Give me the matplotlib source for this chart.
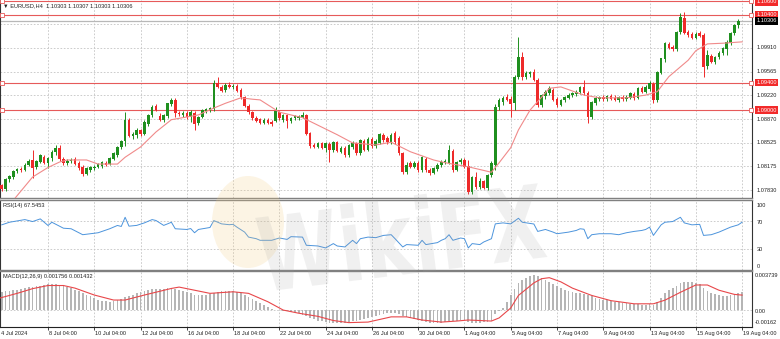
import numpy as np
import matplotlib
matplotlib.use('Agg')
import matplotlib.pyplot as plt
from matplotlib.patches import Ellipse, PathPatch
from matplotlib.textpath import TextPath
from matplotlib.font_manager import FontProperties
from matplotlib.transforms import Affine2D

plt.rcParams['font.family'] = ['Liberation Sans', 'DejaVu Sans']

# EURUSD H4 candles, 4 Jul 2024 00:00 -> 19 Aug 2024 04:00 (one entry per bar)
opens = [
    1.0786, 1.0790, 1.0784, 1.0799, 1.0802, 1.0811, 1.0814, 1.0812, 1.0820, 1.0827, 1.0817, 1.0824,
    1.0831, 1.0822, 1.0830, 1.0838, 1.0845, 1.0829, 1.0823, 1.0826, 1.0828, 1.0822, 1.0816, 1.0807,
    1.0813, 1.0815, 1.0817, 1.0818, 1.0823, 1.0821, 1.0829, 1.0834, 1.0846, 1.0855, 1.0886, 1.0862,
    1.0863, 1.0871, 1.0865, 1.0880, 1.0893, 1.0906, 1.0892, 1.0886, 1.0891, 1.0909, 1.0915, 1.0896,
    1.0893, 1.0896, 1.0890, 1.0896, 1.0881, 1.0890, 1.0899, 1.0900, 1.0902, 1.0940, 1.0934, 1.0929,
    1.0937, 1.0934, 1.0935, 1.0929, 1.0919, 1.0906, 1.0897, 1.0888, 1.0887, 1.0881, 1.0886, 1.0883,
    1.0884, 1.0897, 1.0886, 1.0893, 1.0884, 1.0888, 1.0888, 1.0890, 1.0893, 1.0866, 1.0849, 1.0846,
    1.0852, 1.0845, 1.0850, 1.0842, 1.0853, 1.0839, 1.0845, 1.0834, 1.0846, 1.0852, 1.0837, 1.0855,
    1.0842, 1.0858, 1.0847, 1.0852, 1.0864, 1.0859, 1.0853, 1.0866, 1.0859, 1.0837, 1.0809, 1.0822,
    1.0817, 1.0823, 1.0812, 1.0828, 1.0812, 1.0808, 1.0814, 1.0819, 1.0824, 1.0823, 1.0840, 1.0813,
    1.0824, 1.0827, 1.0818, 1.0780, 1.0802, 1.0787, 1.0796, 1.0786, 1.0805, 1.0820, 1.0904, 1.0912,
    1.0919, 1.0917, 1.0910, 1.0949, 1.0978, 1.0949, 1.0953, 1.0956, 1.0944, 1.0908, 1.0920, 1.0925,
    1.0930, 1.0916, 1.0908, 1.0915, 1.0918, 1.0922, 1.0924, 1.0926, 1.0934, 1.0925, 1.0890, 1.0911,
    1.0917, 1.0919, 1.0916, 1.0920, 1.0918, 1.0915, 1.0919, 1.0916, 1.0918, 1.0924, 1.0918, 1.0933,
    1.0927, 1.0931, 1.0938, 1.0915, 1.0955, 1.0975, 1.0997, 1.0992, 1.0989, 1.1014, 1.1035, 1.1014,
    1.1012, 1.1006, 1.1013, 1.1010, 1.0964, 1.0980, 1.0971, 1.0978, 1.0984, 1.0990, 1.0999, 1.1013,
    1.1024, 1.10303,
]
highs = [
    1.0792, 1.0792, 1.0801, 1.0805, 1.0812, 1.0815, 1.0817, 1.0823, 1.0828, 1.0842, 1.0827, 1.0836,
    1.0835, 1.0832, 1.0841, 1.0849, 1.0849, 1.0832, 1.0828, 1.0830, 1.0831, 1.0825, 1.0820, 1.0816,
    1.0818, 1.0819, 1.0823, 1.0826, 1.0826, 1.0831, 1.0839, 1.0848, 1.0856, 1.0897, 1.0888, 1.0868,
    1.0874, 1.0873, 1.0885, 1.0895, 1.0907, 1.0909, 1.0896, 1.0895, 1.0911, 1.0918, 1.0918, 1.0899,
    1.0898, 1.0898, 1.0900, 1.0899, 1.0892, 1.0902, 1.0903, 1.0905, 1.0944, 1.0948, 1.0937, 1.0940,
    1.0941, 1.0939, 1.0938, 1.0932, 1.0921, 1.0909, 1.0899, 1.0891, 1.0889, 1.0888, 1.0888, 1.0885,
    1.0905, 1.0899, 1.0895, 1.0895, 1.0890, 1.0893, 1.0893, 1.0897, 1.0895, 1.0868, 1.0852, 1.0854,
    1.0854, 1.0854, 1.0853, 1.0855, 1.0855, 1.0847, 1.0847, 1.0851, 1.0855, 1.0854, 1.0858, 1.0858,
    1.0860, 1.0860, 1.0857, 1.0867, 1.0867, 1.0862, 1.0866, 1.0869, 1.0862, 1.0839, 1.0824, 1.0825,
    1.0826, 1.0825, 1.0833, 1.0831, 1.0815, 1.0817, 1.0822, 1.0827, 1.0828, 1.0849, 1.0843, 1.0826,
    1.0830, 1.0830, 1.0827, 1.0804, 1.0809, 1.0800, 1.0798, 1.0807, 1.0826, 1.0909, 1.0918, 1.0921,
    1.0923, 1.0920, 1.0952, 1.1007, 1.0985, 1.0957, 1.0958, 1.0960, 1.0947, 1.0924, 1.0930, 1.0935,
    1.0933, 1.0919, 1.0917, 1.0921, 1.0925, 1.0927, 1.0929, 1.0936, 1.0944, 1.0928, 1.0913, 1.0920,
    1.0921, 1.0922, 1.0922, 1.0923, 1.0922, 1.0921, 1.0922, 1.0922, 1.0927, 1.0926, 1.0934, 1.0936,
    1.0937, 1.0942, 1.0941, 1.0958, 1.0977, 1.1000, 1.1000, 1.0995, 1.1016, 1.1042, 1.1044, 1.1017,
    1.1015, 1.1014, 1.1016, 1.1013, 1.0988, 1.0982, 1.0980, 1.0986, 1.0993, 1.1002, 1.1015, 1.1026,
    1.1034, 1.10307,
]
lows = [
    1.0784, 1.0782, 1.0782, 1.0795, 1.0799, 1.0808, 1.0810, 1.0811, 1.0818, 1.0801, 1.0814, 1.0822,
    1.0821, 1.0815, 1.0826, 1.0835, 1.0826, 1.0820, 1.0820, 1.0822, 1.0820, 1.0813, 1.0804, 1.0805,
    1.0810, 1.0812, 1.0815, 1.0815, 1.0818, 1.0819, 1.0827, 1.0832, 1.0843, 1.0847, 1.0860, 1.0858,
    1.0859, 1.0862, 1.0863, 1.0877, 1.0890, 1.0898, 1.0884, 1.0883, 1.0888, 1.0906, 1.0890, 1.0892,
    1.0890, 1.0887, 1.0883, 1.0871, 1.0878, 1.0888, 1.0896, 1.0897, 1.0898, 1.0932, 1.0926, 1.0927,
    1.0932, 1.0931, 1.0926, 1.0917, 1.0904, 1.0895, 1.0886, 1.0882, 1.0879, 1.0879, 1.0879, 1.0877,
    1.0882, 1.0886, 1.0883, 1.0874, 1.0881, 1.0885, 1.0886, 1.0888, 1.0863, 1.0845, 1.0844, 1.0844,
    1.0843, 1.0838, 1.0824, 1.0838, 1.0838, 1.0837, 1.0832, 1.0832, 1.0843, 1.0835, 1.0834, 1.0840,
    1.0840, 1.0845, 1.0845, 1.0850, 1.0854, 1.0851, 1.0850, 1.0851, 1.0835, 1.0806, 1.0806, 1.0815,
    1.0815, 1.0810, 1.0810, 1.0810, 1.0805, 1.0806, 1.0811, 1.0817, 1.0821, 1.0821, 1.0810, 1.0811,
    1.0821, 1.0815, 1.0777, 1.0777, 1.0784, 1.0784, 1.0784, 1.0783, 1.0802, 1.0812, 1.0900, 1.0908,
    1.0913, 1.0890, 1.0900, 1.0945, 1.0944, 1.0946, 1.0949, 1.0942, 1.0905, 1.0905, 1.0917, 1.0922,
    1.0913, 1.0905, 1.0906, 1.0912, 1.0916, 1.0919, 1.0921, 1.0923, 1.0922, 1.0881, 1.0887, 1.0908,
    1.0914, 1.0914, 1.0913, 1.0915, 1.0913, 1.0912, 1.0914, 1.0913, 1.0916, 1.0915, 1.0916, 1.0925,
    1.0925, 1.0928, 1.0911, 1.0912, 1.0953, 1.0971, 1.0989, 1.0986, 1.0986, 1.1011, 1.1011, 1.1007,
    1.1004, 1.1004, 1.1007, 1.0949, 1.0960, 1.0969, 1.0968, 1.0975, 1.0981, 1.0981, 1.0996, 1.1010,
    1.1021, 1.10303,
]
closes = [
    1.0790, 1.0784, 1.0799, 1.0804, 1.0811, 1.0814, 1.0812, 1.0820, 1.0826, 1.0815, 1.0825, 1.0834,
    1.0823, 1.0830, 1.0839, 1.0845, 1.0828, 1.0823, 1.0826, 1.0827, 1.0821, 1.0815, 1.0806, 1.0815,
    1.0816, 1.0817, 1.0821, 1.0824, 1.0820, 1.0830, 1.0837, 1.0846, 1.0855, 1.0886, 1.0862, 1.0865,
    1.0871, 1.0865, 1.0883, 1.0893, 1.0905, 1.0900, 1.0886, 1.0893, 1.0910, 1.0915, 1.0896, 1.0894,
    1.0896, 1.0890, 1.0897, 1.0880, 1.0890, 1.0900, 1.0901, 1.0903, 1.0940, 1.0934, 1.0928, 1.0937,
    1.0934, 1.0935, 1.0928, 1.0919, 1.0906, 1.0897, 1.0888, 1.0884, 1.0881, 1.0886, 1.0881, 1.0880,
    1.0899, 1.0888, 1.0893, 1.0884, 1.0888, 1.0891, 1.0891, 1.0893, 1.0865, 1.0847, 1.0846, 1.0852,
    1.0845, 1.0852, 1.0842, 1.0853, 1.0840, 1.0845, 1.0834, 1.0849, 1.0852, 1.0837, 1.0856, 1.0842,
    1.0858, 1.0847, 1.0855, 1.0865, 1.0856, 1.0853, 1.0864, 1.0853, 1.0837, 1.0809, 1.0820, 1.0817,
    1.0823, 1.0812, 1.0831, 1.0812, 1.0808, 1.0815, 1.0820, 1.0824, 1.0825, 1.0842, 1.0813, 1.0824,
    1.0827, 1.0817, 1.0780, 1.0802, 1.0787, 1.0796, 1.0786, 1.0805, 1.0823, 1.0905, 1.0915, 1.0918,
    1.0915, 1.0909, 1.0949, 1.0978, 1.0949, 1.0954, 1.0956, 1.0944, 1.0908, 1.0922, 1.0927, 1.0932,
    1.0915, 1.0908, 1.0915, 1.0919, 1.0922, 1.0925, 1.0927, 1.0934, 1.0925, 1.0890, 1.0912, 1.0918,
    1.0919, 1.0917, 1.0920, 1.0917, 1.0915, 1.0919, 1.0916, 1.0919, 1.0925, 1.0918, 1.0932, 1.0927,
    1.0934, 1.0940, 1.0915, 1.0956, 1.0976, 1.0998, 1.0991, 1.0990, 1.1014, 1.1036, 1.1013, 1.1010,
    1.1006, 1.1011, 1.1009, 1.0963, 1.0981, 1.0971, 1.0978, 1.0984, 1.0991, 1.1000, 1.1013, 1.1024,
    1.1030, 1.10306,
]

# moving average line, read at a set of bars
ma_bars = [0, 4, 9, 13, 16, 18, 23, 26, 31, 33, 37, 41, 45, 49, 52, 56, 59, 63, 66, 68, 73, 79, 88, 92,
           98, 102, 107, 113, 116, 122, 128, 130, 133, 135, 138, 141, 143, 146, 148, 152, 156, 163,
           168, 171, 174, 179, 181, 184, 188, 193]
ma_vals = [1.0749, 1.0768, 1.0802, 1.0816, 1.0824, 1.0827, 1.0827, 1.0821, 1.0821, 1.0831, 1.0846,
           1.0868, 1.0886, 1.0890, 1.0893, 1.0903, 1.0910, 1.0918, 1.0916, 1.0915, 1.0897, 1.0889,
           1.0864, 1.0852, 1.0849, 1.0853, 1.0839, 1.0827, 1.0823, 1.0817, 1.0809, 1.0823, 1.0845,
           1.0871, 1.0900, 1.0919, 1.0932, 1.0934, 1.0930, 1.0922, 1.0918, 1.0918, 1.0922, 1.0927,
           1.0949, 1.0973, 1.0987, 1.0997, 1.0998, 1.1000]

# RSI(14)
rsi_bars = [1, 3, 7, 9, 11, 13, 14, 17, 19, 22, 26, 29, 31, 32, 33, 34, 36, 38, 40, 41, 43, 44, 45, 46,
            49, 50, 51, 52, 55, 56, 58, 60, 61, 62, 64, 65, 67, 68, 71, 73, 75, 76, 79, 80, 83, 85,
            87, 88, 90, 92, 93, 94, 96, 98, 100, 102, 103, 105, 106, 109, 110, 111, 114, 115, 116,
            117, 118, 120, 121, 122, 123, 125, 126, 128, 129, 131, 133, 135, 136, 139, 140, 142, 144,
            145, 148, 150, 151, 152, 153, 154, 156, 159, 161, 163, 165, 167, 168, 169, 170, 172, 173,
            175, 177, 178, 180, 182, 183, 185, 187, 190, 192, 193]
rsi_vals = [63.8, 67.5, 71.3, 68.5, 72.3, 62.9, 67.5, 59.0, 58.2, 49.7, 52.5, 58.2, 62.9, 61.5, 74.6,
            61.9, 63.0, 66.6, 71.3, 70.0, 63.0, 65.2, 67.5, 58.2, 57.2, 58.5, 52.5, 57.2, 60.0, 69.9,
            65.2, 64.0, 64.5, 60.5, 53.4, 46.3, 44.0, 41.7, 41.7, 45.0, 43.0, 46.9, 46.3, 34.6, 33.6,
            30.8, 37.0, 33.6, 32.2, 41.7, 37.0, 44.0, 46.3, 45.5, 48.7, 49.7, 44.0, 32.2, 35.6, 34.6,
            41.7, 35.6, 38.4, 41.7, 44.0, 49.7, 41.7, 45.0, 44.0, 30.8, 37.0, 35.6, 39.3, 44.0, 65.2,
            66.6, 65.2, 73.2, 67.5, 65.0, 54.4, 57.2, 53.4, 51.1, 53.4, 55.8, 58.2, 57.5, 44.0, 49.7,
            51.1, 51.1, 49.7, 52.5, 54.4, 55.8, 57.2, 60.5, 48.7, 63.8, 67.5, 68.5, 74.6, 66.6, 63.8,
            64.5, 48.7, 49.7, 53.4, 60.5, 63.8, 67.55]

# MACD(12,26,9) main histogram, one value per bar, in units of 1e-4
macd_e4 = [
    17, 17.5, 18, 18.5, 19, 19.5, 20, 21, 22, 22.5, 23, 23.5,
    24, 24.5, 24.5, 24.5, 24, 23, 22, 21, 19.5, 18, 16, 14.5,
    13, 11.5, 10, 9, 8.5, 8, 8.5, 9.5, 10.5, 12.5, 13.5, 14.5,
    16, 17, 18, 19, 20, 20.5, 20.5, 20.5, 21, 21, 20.5, 19.5,
    18, 17, 16, 14.5, 14, 14, 14.5, 15, 16.5, 17.5, 18, 18.5,
    18.5, 18, 17.5, 16.5, 14.5, 12.5, 10.5, 8.5, 6.5, 4.5, 3, 1.5,
    0.5, 0, -0.5, -1, -1.5, -2, -3, -4.5, -6, -7.5, -9, -10,
    -10.5, -11.5, -12, -12.5, -12.5, -12.5, -12, -11.5, -10.5, -10, -9.5, -8.5,
    -7.5, -6.5, -5.5, -4.5, -3.5, -3, -2.5, -2.5, -3.5, -5.5, -7, -8,
    -9, -9.5, -10, -11, -12, -12.5, -12.5, -12, -11.5, -10.5, -10.5, -10,
    -9.5, -9.5, -11.5, -12, -12, -12, -11.5, -11, -10, -4, -1, 2,
    8, 14, 20, 26, 29, 31, 33, 34, 33, 31, 29, 27,
    25, 23, 21, 19.5, 18.5, 17.5, 16.5, 16, 15.5, 14, 13, 12,
    11, 10, 9.5, 8.5, 8, 7.5, 7, 6.5, 6, 5.5, 5.5, 5,
    5, 5.5, 5, 8, 12, 16, 19, 21.5, 23.5, 25.5, 26.5, 27,
    26.5, 25.5, 24.5, 21, 18.5, 16.5, 15, 14, 13.5, 13.5, 14, 15,
    16, 17.56,
]
signal_bars = [0, 5, 9, 13, 17, 20, 25, 30, 33, 38, 45, 47, 51, 55, 61, 65, 70, 74, 78, 83, 87, 91, 96,
               102, 106, 110, 115, 119, 122, 128, 130, 133, 135, 139, 141, 143, 146, 149, 154, 159,
               165, 170, 173, 177, 181, 184, 187, 191, 193]
signal_e4 = [11, 16, 20.5, 23.5, 23.5, 21, 14.4, 9.6, 9.6, 14.4, 20.7, 22, 19, 16, 17.5, 16, 8, 0, -3,
             -6, -10, -12, -11.5, -6.5, -6.5, -9.5, -11.5, -10.5, -9.5, -10.5, -7.5, 2, 14, 26, 30,
             31, 27, 21, 14, 9, 6, 6, 9.5, 17, 24, 24, 19, 15, 14.32]

# axis texts
time_label_bars = [0, 13, 25, 37, 49, 61, 73, 85, 97, 109, 121, 133, 145, 157, 169, 181, 193]
time_labels = ['4 Jul 2024', '8 Jul 04:00', '10 Jul 04:00', '12 Jul 04:00', '16 Jul 04:00',
               '18 Jul 04:00', '22 Jul 04:00', '24 Jul 04:00', '26 Jul 04:00', '30 Jul 04:00',
               '1 Aug 04:00', '5 Aug 04:00', '7 Aug 04:00', '9 Aug 04:00', '13 Aug 04:00',
               '15 Aug 04:00', '19 Aug 04:00']
price_grid = [1.07830, 1.08175, 1.08525, 1.08870, 1.09220, 1.09565, 1.09910, 1.10255, 1.10600]
price_labels = ['1.07830', '1.08175', '1.08525', '1.08870', '1.09220', '1.09565', '1.09910']
level_lines = [1.10600, 1.10400, 1.09400, 1.09000]
last_price = 1.10306

GREEN = '#1f8f1f'
RED = '#ee2a2a'
GRID = '#c4c4c4'
FS = 4.1

W, H = 780, 339
fig = plt.figure(figsize=(7.8, 3.39), dpi=100)
fig.patch.set_facecolor('white')


def box(left, top, width, height):
    return [left / W, 1 - (top + height) / H, width / W, height / H]


ax = fig.add_axes(box(0, 0, 752, 198))
ax_rsi = fig.add_axes(box(0, 199.5, 752, 70))
ax_macd = fig.add_axes(box(0, 271, 752, 56))

x0, x1 = 0.55, 195.57
for a in (ax, ax_rsi, ax_macd):
    a.set_xlim(x0, x1)
    a.set_xticks([])
    a.set_yticks([])
    a.set_facecolor('white')
    for b in time_label_bars[1:]:
        a.axvline(b, color=GRID, lw=0.6, ls=(0, (2, 2)), zorder=0)
    for s in ('left', 'right'):
        a.spines[s].set_color('#333333')
        a.spines[s].set_linewidth(0.8)
    for s in ('top', 'bottom'):
        a.spines[s].set_color('#808080')
        a.spines[s].set_linewidth(1.0)
ax.spines['top'].set_visible(False)
ax_macd.spines['bottom'].set_color('#222222')
ax_macd.spines['bottom'].set_linewidth(0.8)

# ---- price panel ----
o = np.array(opens)
h = np.array(highs)
l = np.array(lows)
c = np.array(closes)
x = np.arange(len(o))
col = np.where(c >= o, GREEN, RED)
body = np.abs(c - o)
tiny = body < 0.0001
height = np.where(tiny, 0.0001, body)
bottom = np.where(tiny, (o + c) / 2 - 0.00005, np.minimum(o, c))

ax.set_ylim(1.07713, 1.10613)
for p in price_grid:
    ax.axhline(p, color=GRID, lw=0.6, ls=(0, (2, 2)), zorder=0)
ax.axhline(last_price, color='#b8b8b8', lw=0.9, zorder=1)
for p in level_lines:
    ax.axhline(p, color='#e65a5a', lw=0.8, zorder=1)
    ax.plot([1.0, 195.2], [p, p], ls='none', marker='s', ms=2.2, mfc='white',
            mec='#e65a5a', mew=0.6, zorder=5, clip_on=False)

ax.vlines(x, l, h, colors=col, lw=0.7, zorder=3)
ax.bar(x, height, bottom=bottom, width=0.66, color=col, linewidth=0, zorder=4)
ax.plot(ma_bars, ma_vals, color='#f08a8a', lw=0.8, zorder=5)

ytr = ax.get_yaxis_transform()
for p, s in zip(price_grid, price_labels):
    ax.text(1.006, p, s, transform=ytr, fontsize=FS, va='center', ha='left', color='#222222',
            clip_on=False)
for p in level_lines:
    # the top level sits on the frame edge; keep its tag inside the picture
    ty = min(p, 1.10585)
    ax.text(1.006, ty, '%.5f' % p, transform=ytr, fontsize=FS, va='center', ha='left',
            color='white', clip_on=False,
            bbox=dict(boxstyle='square,pad=0.2', fc='#f22a2a', ec='none'))
ax.text(1.006, last_price, '%.5f' % last_price, transform=ytr, fontsize=FS, va='center',
        ha='left', color='white', clip_on=False,
        bbox=dict(boxstyle='square,pad=0.2', fc='black', ec='none'))
ax.text(0.004, 0.972, '\u25bc EURUSD,H4  1.10303 1.10307 1.10303 1.10306', transform=ax.transAxes,
        fontsize=FS, va='center', ha='left', color='#222222')

# ---- RSI panel ----
ax_rsi.set_ylim(0, 100)
for lv in (70, 30):
    ax_rsi.axhline(lv, color=GRID, lw=0.6, ls=(0, (2, 2)), zorder=0)
ax_rsi.plot(rsi_bars, rsi_vals, color='#4c94dc', lw=0.7)
rtr = ax_rsi.get_yaxis_transform()
for v, s in [(91, '100'), (67.5, '70'), (29, '30'), (5, '0')]:
    ax_rsi.text(1.006, v, s, transform=rtr, fontsize=FS, va='center', ha='left',
                color='#222222', clip_on=False)
ax_rsi.text(0.004, 0.92, 'RSI(14) 67.5453', transform=ax_rsi.transAxes, fontsize=FS,
            va='center', ha='left', color='#222222')

# ---- MACD panel ----
macd = np.array(macd_e4) * 1e-4
signal = np.array(signal_e4) * 1e-4
ax_macd.set_ylim(-0.00162, 0.003739)
ax_macd.axhline(0, color=GRID, lw=0.6, ls=(0, (2, 2)), zorder=0)
ax_macd.bar(x, macd, width=0.45, color='#b5b5b5', linewidth=0, zorder=2)
ax_macd.plot(signal_bars, signal, color='#e8474a', lw=0.8, zorder=3)
mtr = ax_macd.get_yaxis_transform()
for v, s in [(0.00335, '0.003739'), (-0.0001, '0.00'), (-0.00122, '-0.00162')]:
    ax_macd.text(1.004, v, s, transform=mtr, fontsize=FS, va='center', ha='left',
                 color='#222222', clip_on=False)
ax_macd.text(0.004, 0.91, 'MACD(12,26,9) 0.001756 0.001432', transform=ax_macd.transAxes,
             fontsize=FS, va='center', ha='left', color='#222222')

# time axis
ax_macd.set_xticks(time_label_bars[1:])
ax_macd.tick_params(axis='x', length=2, width=0.6, color='#222222', labelbottom=False)
xtr = ax_macd.get_xaxis_transform()
for b, s in zip(time_label_bars, time_labels):
    ax_macd.text(max(b, x0) + 0.25, -0.108, s, transform=xtr, fontsize=FS, va='center',
                 ha='left', color='#222222', clip_on=False)

# watermark
fig.add_artist(Ellipse((248 / W, 1 - 222 / H), 72 / W, 92 / H, transform=fig.transFigure,
                       color='#f4cf86', alpha=0.22, lw=0, zorder=20))
tp = TextPath((0, 0), 'WikiFX', size=100, prop=FontProperties(family='DejaVu Sans',
                                                              weight='bold'))
wm = Affine2D().scale(0.74, 1.02).rotate_deg(7).translate(262, H - 292)
fig.add_artist(PathPatch(tp, transform=wm, fc='#a0a0a0', ec='none', alpha=0.15, zorder=20))

fig.savefig('out.png', dpi=100, facecolor='white')
